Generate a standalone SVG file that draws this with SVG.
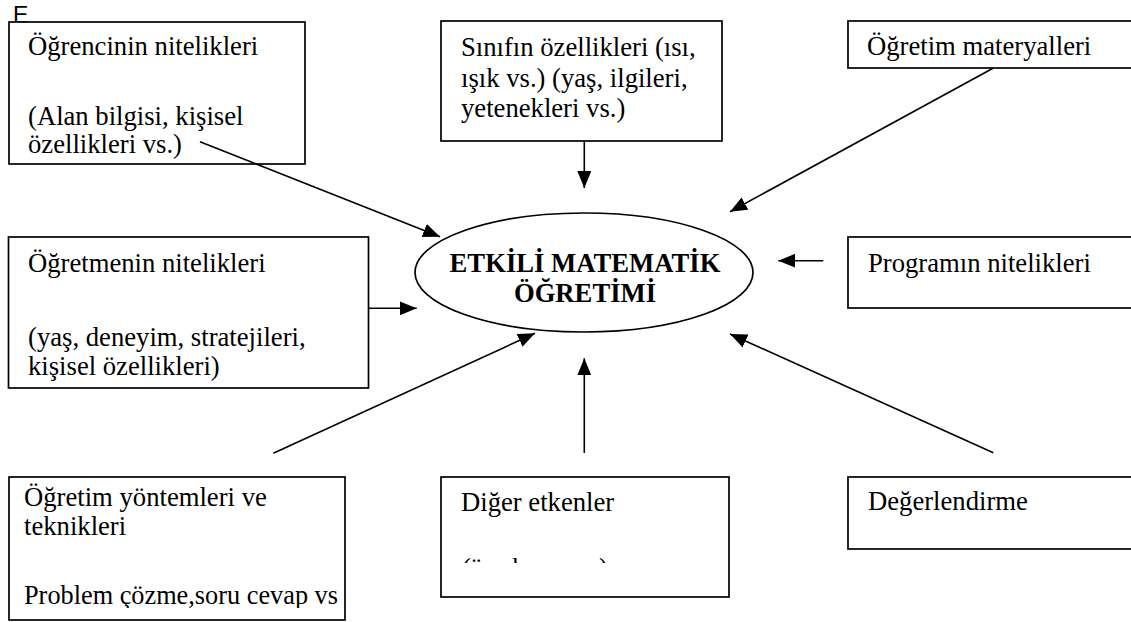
<svg xmlns="http://www.w3.org/2000/svg" width="1131" height="622" viewBox="0 0 1131 622">
<style>
.box{fill:#fff;stroke:#000;stroke-width:1.7}
.t{font-family:"Liberation Serif","Times New Roman",serif;font-size:26.67px;fill:#000}
.tb{font-family:"Liberation Serif","Times New Roman",serif;font-size:26.67px;font-weight:bold;fill:#000}
.c{stroke:#000;stroke-width:1.6;fill:none;marker-end:url(#ah)}
</style>
<defs>
<marker id="ah" markerUnits="userSpaceOnUse" markerWidth="18" markerHeight="15" refX="17" refY="7" orient="auto">
<path d="M0,0 L17,7 L0,14 z" fill="#000"/>
</marker>
<clipPath id="clipG"><rect x="441" y="477" width="289" height="86"/></clipPath>
<clipPath id="clipH"><rect x="9" y="477" width="336" height="131"/></clipPath>
</defs>
<text x="13" y="23" style="font-family:'Liberation Sans',Arial,sans-serif;font-size:23px">E</text>
<g id="n-ogrenci">
<rect class="box" x="9" y="22" width="296" height="142"/>
<text class="t" x="28" y="55">Öğrencinin nitelikleri</text>
<text class="t" x="28" y="125">(Alan bilgisi, kişisel</text>
<text class="t" x="28" y="153">özellikleri vs.)</text>
</g>
<g id="n-sinif">
<rect class="box" x="441" y="21" width="281" height="120"/>
<text class="t" x="461" y="56">Sınıfın özellikleri (ısı,</text>
<text class="t" x="461" y="87">ışık vs.) (yaş, ilgileri,</text>
<text class="t" x="461" y="117">yetenekleri vs.)</text>
</g>
<g id="n-materyal">
<rect class="box" x="848" y="21" width="300" height="47"/>
<text class="t" x="867" y="55">Öğretim materyalleri</text>
</g>
<g id="n-ogretmen">
<rect class="box" x="8.5" y="237" width="360" height="151"/>
<text class="t" x="28" y="272">Öğretmenin nitelikleri</text>
<text class="t" x="28" y="346">(yaş, deneyim, stratejileri,</text>
<text class="t" x="28" y="375">kişisel özellikleri)</text>
</g>
<g id="n-center">
<ellipse cx="584" cy="272.5" rx="169" ry="59.5" fill="#fff" stroke="#000" stroke-width="1.7"/>
<text class="tb" x="585" y="272" text-anchor="middle">ETKİLİ MATEMATİK</text>
<text class="tb" x="585" y="302" text-anchor="middle">ÖĞRETİMİ</text>
</g>
<g id="n-program">
<rect class="box" x="848" y="237" width="300" height="71"/>
<text class="t" x="868" y="272">Programın nitelikleri</text>
</g>
<g id="n-yontem">
<rect class="box" x="9" y="477" width="336" height="143"/>
<g clip-path="url(#clipH)">
<text class="t" x="24" y="506">Öğretim yöntemleri ve</text>
<text class="t" x="24" y="535">teknikleri</text>
<text class="t" x="24" y="604" textLength="314" lengthAdjust="spacingAndGlyphs">Problem çözme,soru cevap vs</text>
</g>
</g>
<g id="n-diger">
<rect class="box" x="441" y="477" width="288" height="120"/>
<text class="t" x="461" y="511">Diğer etkenler</text>
<g clip-path="url(#clipG)">
<text class="t" x="462" y="577" textLength="146" lengthAdjust="spacing">(örnek: zaman)</text>
</g>
</g>
<g id="n-degerlendirme">
<rect class="box" x="848" y="477" width="300" height="72"/>
<text class="t" x="868" y="510">Değerlendirme</text>
</g>
<g id="connectors">
<line class="c" x1="200" y1="141.7" x2="440" y2="236.7"/>
<line class="c" x1="584.3" y1="141" x2="584.3" y2="188"/>
<line class="c" x1="993" y1="68.3" x2="730" y2="211.7"/>
<line class="c" x1="368.3" y1="308.3" x2="416.7" y2="308.3"/>
<line class="c" x1="823.3" y1="260.7" x2="778.3" y2="260.7"/>
<line class="c" x1="273.3" y1="453.3" x2="535" y2="333.3"/>
<line class="c" x1="584.3" y1="453" x2="584.3" y2="358.3"/>
<line class="c" x1="993.3" y1="452.7" x2="730" y2="334"/>
</g>
</svg>
